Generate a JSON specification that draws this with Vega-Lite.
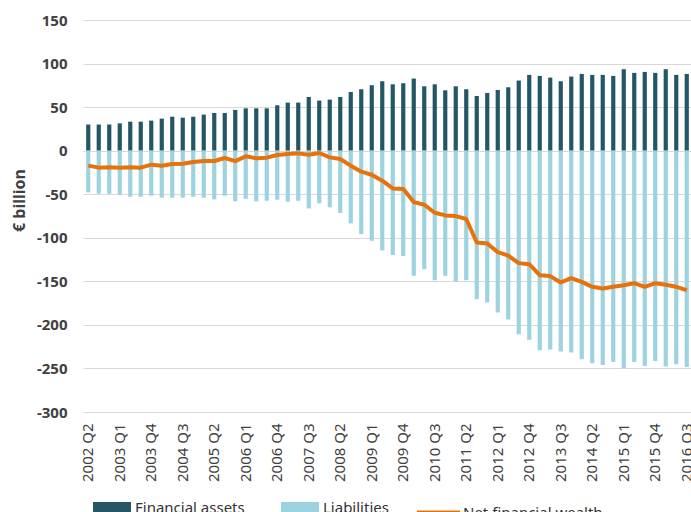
{
  "$schema": "https://vega.github.io/schema/vega-lite/v6.json",
  "width": 609,
  "height": 392,
  "autosize": {"type": "none"},
  "padding": {"left": 83, "top": 20, "right": 0, "bottom": 100},
  "background": "white",
  "config": {"view": {"stroke": null}, "font": "Noto Sans"},
  "data": {"values": [
    {"quarter": "2002 Q2", "Financial assets": 30, "Liabilities": -47.9, "Net financial wealth": -17.2},
    {"quarter": "2002 Q3", "Financial assets": 30, "Liabilities": -49.4, "Net financial wealth": -19.5},
    {"quarter": "2002 Q4", "Financial assets": 30, "Liabilities": -49.4, "Net financial wealth": -19},
    {"quarter": "2003 Q1", "Financial assets": 31.4, "Liabilities": -50.6, "Net financial wealth": -19.5},
    {"quarter": "2003 Q2", "Financial assets": 33.3, "Liabilities": -52.9, "Net financial wealth": -19},
    {"quarter": "2003 Q3", "Financial assets": 33.3, "Liabilities": -52.9, "Net financial wealth": -19.5},
    {"quarter": "2003 Q4", "Financial assets": 34.5, "Liabilities": -51.7, "Net financial wealth": -16.1},
    {"quarter": "2004 Q1", "Financial assets": 36.8, "Liabilities": -54, "Net financial wealth": -17.2},
    {"quarter": "2004 Q2", "Financial assets": 39, "Liabilities": -54, "Net financial wealth": -15.3},
    {"quarter": "2004 Q3", "Financial assets": 37.9, "Liabilities": -54, "Net financial wealth": -15},
    {"quarter": "2004 Q4", "Financial assets": 39, "Liabilities": -52.9, "Net financial wealth": -13},
    {"quarter": "2005 Q1", "Financial assets": 41.4, "Liabilities": -54, "Net financial wealth": -11.9},
    {"quarter": "2005 Q2", "Financial assets": 43.3, "Liabilities": -55.9, "Net financial wealth": -11.9},
    {"quarter": "2005 Q3", "Financial assets": 43.3, "Liabilities": -51.7, "Net financial wealth": -8.4},
    {"quarter": "2005 Q4", "Financial assets": 46.8, "Liabilities": -58.2, "Net financial wealth": -12},
    {"quarter": "2006 Q1", "Financial assets": 48.6, "Liabilities": -55.2, "Net financial wealth": -6.5},
    {"quarter": "2006 Q2", "Financial assets": 48.6, "Liabilities": -58.2, "Net financial wealth": -8.8},
    {"quarter": "2006 Q3", "Financial assets": 48.6, "Liabilities": -57.5, "Net financial wealth": -8},
    {"quarter": "2006 Q4", "Financial assets": 52.1, "Liabilities": -56.3, "Net financial wealth": -5},
    {"quarter": "2007 Q1", "Financial assets": 55.2, "Liabilities": -58.6, "Net financial wealth": -3.8},
    {"quarter": "2007 Q2", "Financial assets": 55.2, "Liabilities": -57.5, "Net financial wealth": -3.1},
    {"quarter": "2007 Q3", "Financial assets": 61.7, "Liabilities": -66.3, "Net financial wealth": -4.6},
    {"quarter": "2007 Q4", "Financial assets": 57.5, "Liabilities": -60.5, "Net financial wealth": -2.7},
    {"quarter": "2008 Q1", "Financial assets": 58.6, "Liabilities": -65.1, "Net financial wealth": -7.7},
    {"quarter": "2008 Q2", "Financial assets": 61.7, "Liabilities": -71.6, "Net financial wealth": -9.6},
    {"quarter": "2008 Q3", "Financial assets": 67.4, "Liabilities": -83.5, "Net financial wealth": -17.2},
    {"quarter": "2008 Q4", "Financial assets": 70.5, "Liabilities": -95.8, "Net financial wealth": -24.1},
    {"quarter": "2009 Q1", "Financial assets": 75.1, "Liabilities": -103.4, "Net financial wealth": -27.6},
    {"quarter": "2009 Q2", "Financial assets": 79.7, "Liabilities": -114.6, "Net financial wealth": -34.5},
    {"quarter": "2009 Q3", "Financial assets": 76.2, "Liabilities": -119.7, "Net financial wealth": -43.3},
    {"quarter": "2009 Q4", "Financial assets": 77.4, "Liabilities": -120.9, "Net financial wealth": -44.1},
    {"quarter": "2010 Q1", "Financial assets": 82.8, "Liabilities": -143.7, "Net financial wealth": -59},
    {"quarter": "2010 Q2", "Financial assets": 73.9, "Liabilities": -136, "Net financial wealth": -62.1},
    {"quarter": "2010 Q3", "Financial assets": 76.2, "Liabilities": -148.7, "Net financial wealth": -71.3},
    {"quarter": "2010 Q4", "Financial assets": 69.3, "Liabilities": -143.7, "Net financial wealth": -74.3},
    {"quarter": "2011 Q1", "Financial assets": 73.9, "Liabilities": -150.2, "Net financial wealth": -75.1},
    {"quarter": "2011 Q2", "Financial assets": 70.5, "Liabilities": -148.7, "Net financial wealth": -78.5},
    {"quarter": "2011 Q3", "Financial assets": 62.8, "Liabilities": -170.5, "Net financial wealth": -105.4},
    {"quarter": "2011 Q4", "Financial assets": 66.3, "Liabilities": -174.3, "Net financial wealth": -106.5},
    {"quarter": "2012 Q1", "Financial assets": 69.7, "Liabilities": -185.8, "Net financial wealth": -116.5},
    {"quarter": "2012 Q2", "Financial assets": 72.8, "Liabilities": -193.9, "Net financial wealth": -120.5},
    {"quarter": "2012 Q3", "Financial assets": 80.5, "Liabilities": -210.7, "Net financial wealth": -129.1},
    {"quarter": "2012 Q4", "Financial assets": 87, "Liabilities": -217.2, "Net financial wealth": -130.3},
    {"quarter": "2013 Q1", "Financial assets": 85.8, "Liabilities": -229.1, "Net financial wealth": -142.9},
    {"quarter": "2013 Q2", "Financial assets": 83.9, "Liabilities": -228.3, "Net financial wealth": -144},
    {"quarter": "2013 Q3", "Financial assets": 79.7, "Liabilities": -230.6, "Net financial wealth": -151.3},
    {"quarter": "2013 Q4", "Financial assets": 85.1, "Liabilities": -231.8, "Net financial wealth": -146.4},
    {"quarter": "2014 Q1", "Financial assets": 88.1, "Liabilities": -239.5, "Net financial wealth": -150.6},
    {"quarter": "2014 Q2", "Financial assets": 87, "Liabilities": -244.1, "Net financial wealth": -156.3},
    {"quarter": "2014 Q3", "Financial assets": 87, "Liabilities": -246, "Net financial wealth": -158.2},
    {"quarter": "2014 Q4", "Financial assets": 85.8, "Liabilities": -242.5, "Net financial wealth": -156.3},
    {"quarter": "2015 Q1", "Financial assets": 93.5, "Liabilities": -249.8, "Net financial wealth": -154.4},
    {"quarter": "2015 Q2", "Financial assets": 89.3, "Liabilities": -242.5, "Net financial wealth": -152.1},
    {"quarter": "2015 Q3", "Financial assets": 90.4, "Liabilities": -247.1, "Net financial wealth": -156.3},
    {"quarter": "2015 Q4", "Financial assets": 89.3, "Liabilities": -241.4, "Net financial wealth": -152.1},
    {"quarter": "2016 Q1", "Financial assets": 93.5, "Liabilities": -247.9, "Net financial wealth": -154},
    {"quarter": "2016 Q2", "Financial assets": 87, "Liabilities": -245.2, "Net financial wealth": -156.3},
    {"quarter": "2016 Q3", "Financial assets": 88.1, "Liabilities": -248.3, "Net financial wealth": -160.2}
  ]},
  "layer": [
    {
      "transform": [{"fold": ["Financial assets", "Liabilities"], "as": ["series", "value"]}],
      "mark": {"type": "bar"},
      "encoding": {
        "x": {
          "field": "quarter", "type": "ordinal", "sort": null,
          "scale": {"paddingInner": 0.6, "paddingOuter": 0.3},
          "axis": {
            "values": ["2002 Q2", "2003 Q1", "2003 Q4", "2004 Q3", "2005 Q2", "2006 Q1", "2006 Q4", "2007 Q3", "2008 Q2", "2009 Q1", "2009 Q4", "2010 Q3", "2011 Q2", "2012 Q1", "2012 Q4", "2013 Q3", "2014 Q2", "2015 Q1", "2015 Q4", "2016 Q3"],
            "labelAngle": -90, "labelFontSize": 15, "labelColor": "#404040",
            "ticks": false, "domain": false, "title": null, "labelPadding": 11, "grid": false
          }
        },
        "y": {
          "field": "value", "type": "quantitative", "stack": null,
          "scale": {"domain": [-300, 150], "nice": false},
          "axis": {
            "values": [-300, -250, -200, -150, -100, -50, 0, 50, 100, 150],
            "labelExpr": "'' + datum.value",
            "title": "€ billion", "titleFontSize": 16, "titleFontWeight": "bold", "titleColor": "#404040",
            "titleX": -56, "titleY": 180,
            "labelFontSize": 15, "labelFontWeight": "bold", "labelColor": "#404040",
            "ticks": false, "domain": false, "labelPadding": 16,
            "grid": true, "gridColor": "#d9d9d9", "gridWidth": 1
          }
        },
        "color": {
          "field": "series", "type": "nominal",
          "scale": {"domain": ["Financial assets", "Liabilities"], "range": ["#235766", "#9dd3e1"]},
          "legend": {
            "orient": "none", "legendX": 10, "legendY": 469, "direction": "horizontal",
            "title": null, "padding": 0,
            "symbolType": "M-1,-0.32H1V0.32H-1Z", "symbolSize": 1444, "symbolStrokeWidth": 0,
            "labelFontSize": 15, "labelColor": "#333333", "columnPadding": 36, "labelOffset": 4
          }
        }
      }
    },
    {
      "mark": {"type": "line", "strokeWidth": 4, "strokeJoin": "round"},
      "encoding": {
        "x": {"field": "quarter", "type": "ordinal", "sort": null},
        "y": {"field": "Net financial wealth", "type": "quantitative"},
        "stroke": {
          "datum": "Net financial wealth", "type": "nominal",
          "scale": {"range": ["#e8710a"]},
          "legend": {
            "orient": "none", "legendX": 332, "legendY": 469, "title": null, "padding": 0,
            "symbolType": "stroke", "symbolSize": 1849, "symbolStrokeWidth": 4,
            "labelFontSize": 15, "labelColor": "#333333", "labelOffset": 1
          }
        }
      }
    }
  ]
}
